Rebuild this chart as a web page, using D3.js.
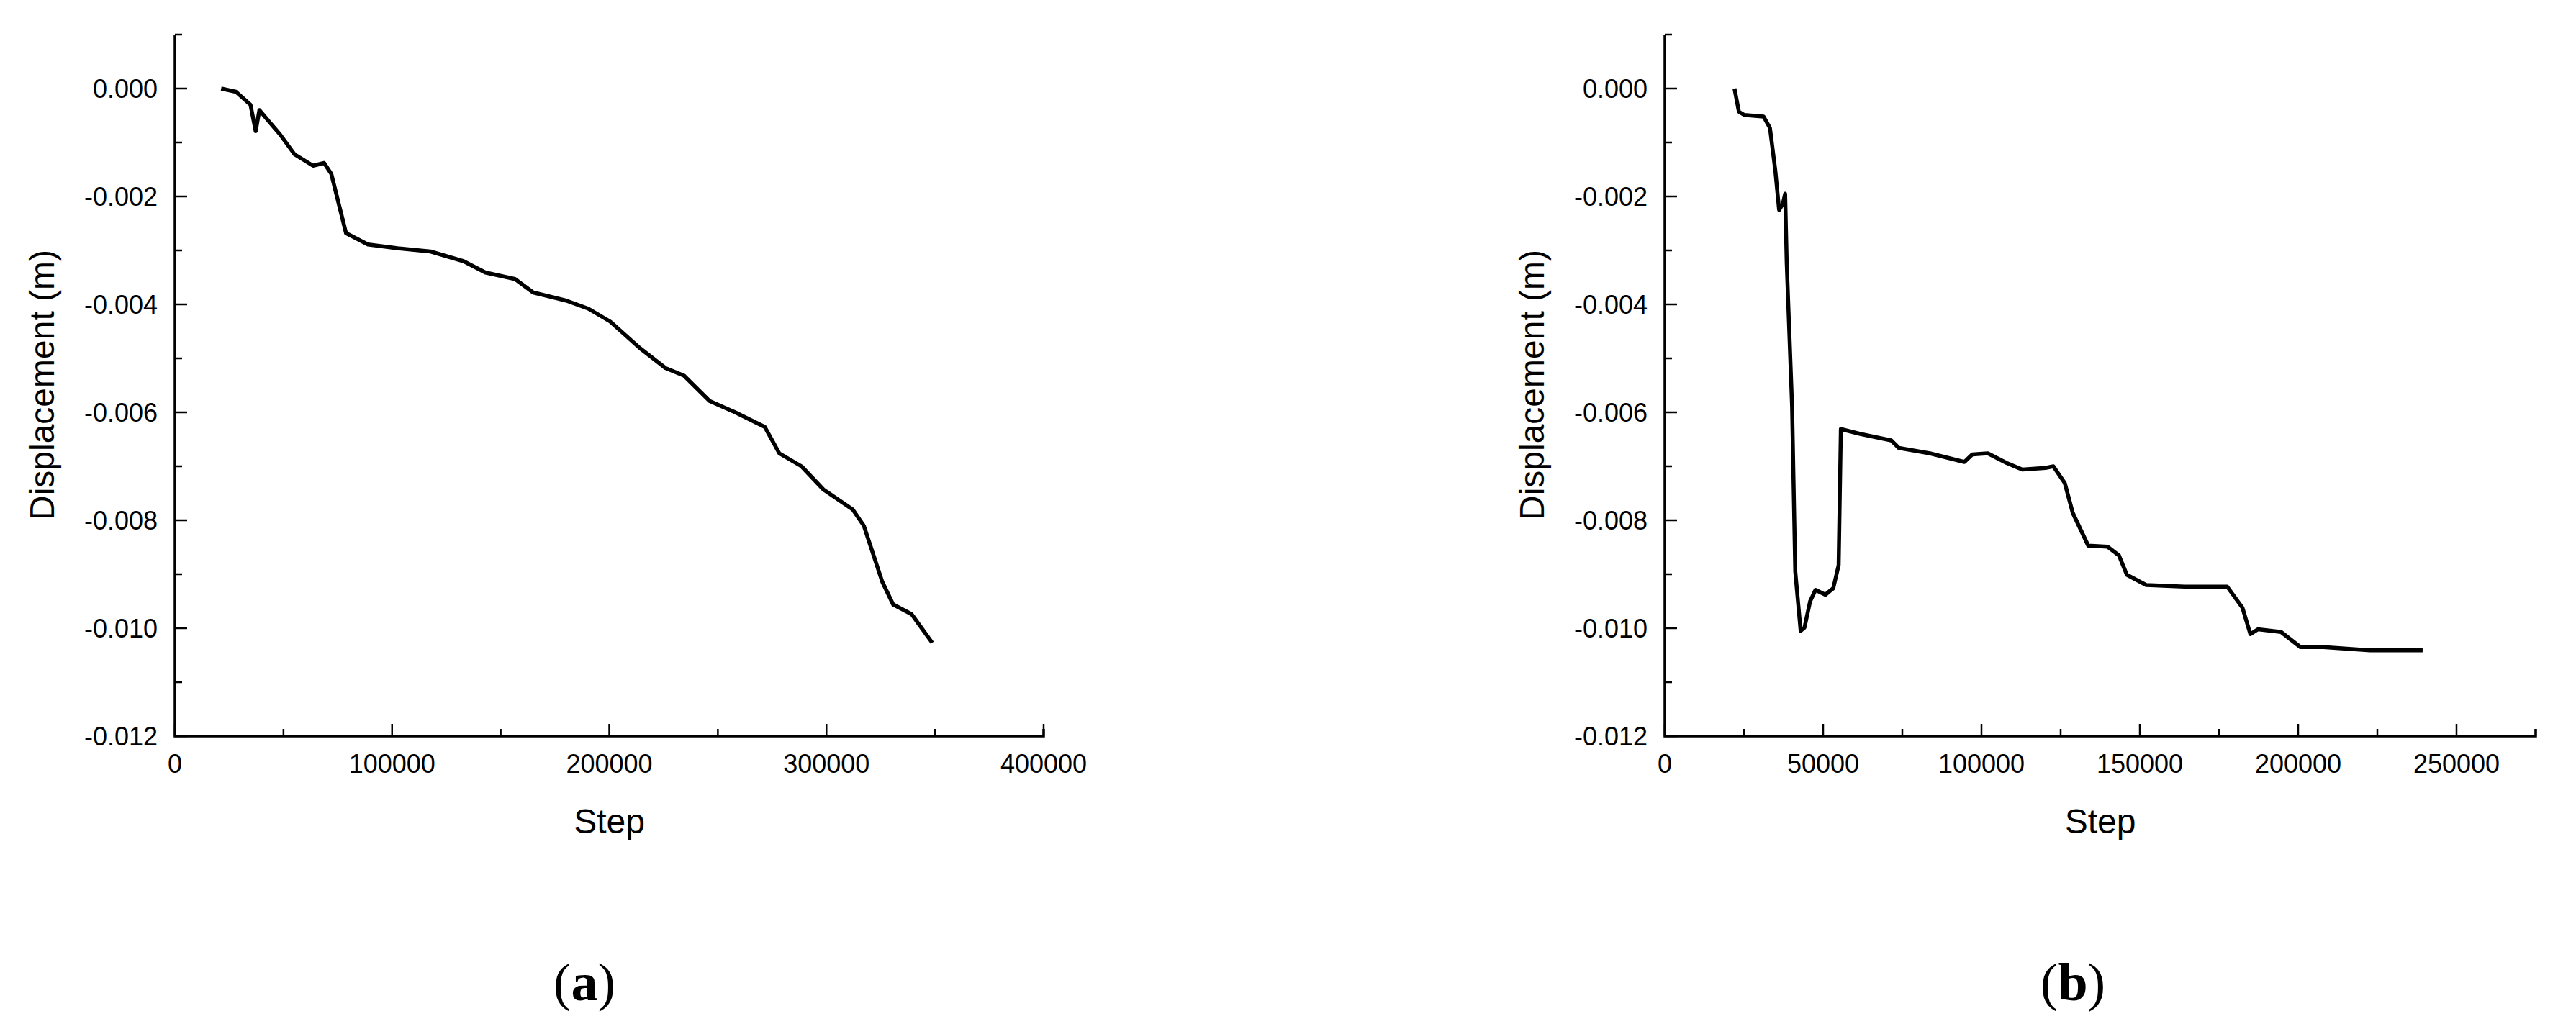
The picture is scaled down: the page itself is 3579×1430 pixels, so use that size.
<!DOCTYPE html>
<html>
<head>
<meta charset="utf-8">
<script src="https://cdn.jsdelivr.net/npm/d3@7"></script>
<style>
  body { margin: 0; background: #fff; }
  svg { display: block; }
</style>
</head>
<body>
<script>
// panel (a)
const stepsA = [21300, 28100, 34800, 37200, 38900, 43300, 48400, 55100, 63600, 68700, 72000, 78800, 88900, 102500, 117700, 132900, 143000, 156600, 165000, 180200, 190400, 200500, 214100, 225900, 234400, 246200, 258000, 271600, 278300, 288500, 298600, 312100, 317200, 325700, 330700, 339200, 348700];
const dispA = [0, -0.00006, -0.0003, -0.00079, -0.0004, -0.00061, -0.00085, -0.00122, -0.00143, -0.00138, -0.00158, -0.00268, -0.00289, -0.00296, -0.00302, -0.0032, -0.00341, -0.00353, -0.00378, -0.00393, -0.00408, -0.00432, -0.00481, -0.00518, -0.00532, -0.00579, -0.006, -0.00627, -0.00676, -0.007, -0.00743, -0.0078, -0.0081, -0.00914, -0.00956, -0.00974, -0.01027];

// panel (b)
const stepsB = [22000, 23400, 25100, 31200, 33200, 34900, 36100, 37300, 38000, 38500, 40200, 41200, 42900, 44100, 45900, 47600, 50700, 53200, 54900, 55600, 61700, 71500, 73900, 83700, 94600, 97100, 102000, 108000, 112900, 120200, 122700, 126300, 128800, 133700, 139800, 143400, 145900, 152000, 164100, 177600, 182400, 184900, 187300, 194600, 200700, 208000, 222700, 239300];
const dispB = [0, -0.00043, -0.00049, -0.00052, -0.00073, -0.00152, -0.00225, -0.00213, -0.00195, -0.00323, -0.0059, -0.00895, -0.01005, -0.00999, -0.0095, -0.00929, -0.00938, -0.00926, -0.00883, -0.00631, -0.0064, -0.00652, -0.00666, -0.00676, -0.00692, -0.00678, -0.00676, -0.00694, -0.00706, -0.00703, -0.007, -0.00731, -0.00786, -0.00847, -0.00849, -0.00865, -0.00901, -0.0092, -0.00923, -0.00923, -0.00962, -0.01011, -0.01002, -0.01007, -0.01035, -0.01035, -0.01041, -0.01041];

const yTicks = [0, -0.002, -0.004, -0.006, -0.008, -0.010, -0.012];
const xTicksA = [0, 100000, 200000, 300000, 400000];
const xTicksB = [0, 50000, 100000, 150000, 200000, 250000];

const W = 3579, H = 1430;
const svg = d3.select("body").append("svg")
    .attr("width", W).attr("height", H)
    .style("font-family", "Arial, 'Liberation Sans', sans-serif");

function panel(opt) {
  const x = d3.scaleLinear().domain(opt.xDomain).range([opt.left, opt.right]);
  const y = d3.scaleLinear().domain([-0.012, 0.001]).range([1023, 48]);
  const g = svg.append("g");

  // minor ticks (every half major step)
  const xMinor = d3.range(opt.xDomain[0], opt.xDomain[1] + 1, opt.xStep / 2);
  const yMinor = d3.range(-0.012, 0.0010001, 0.001);

  g.append("g").selectAll("line").data(xMinor).join("line")
      .attr("x1", d => x(d)).attr("x2", d => x(d))
      .attr("y1", 1023).attr("y2", d => opt.xTicks.includes(d) ? 1023 - 17 : 1023 - 10)
      .attr("stroke", "#000").attr("stroke-width", 2.5);
  g.append("g").selectAll("line").data(yMinor).join("line")
      .attr("y1", d => y(d)).attr("y2", d => y(d))
      .attr("x1", opt.left)
      .attr("x2", d => yTicks.some(t => Math.abs(t - d) < 1e-9) ? opt.left + 17 : opt.left + 10)
      .attr("stroke", "#000").attr("stroke-width", 2.5);

  // axis lines
  g.append("path")
      .attr("d", `M${opt.left},${y(0.001)}V1023H${x(opt.xDomain[1])}V1013`)
      .attr("fill", "none").attr("stroke", "#000").attr("stroke-width", 3.5);

  g.append("g").selectAll("text").data(opt.xTicks).join("text")
      .attr("x", d => x(d)).attr("y", 1074)
      .attr("text-anchor", "middle").attr("font-size", 36)
      .text(d => d);
  g.append("g").selectAll("text").data(yTicks).join("text")
      .attr("x", opt.left - 24).attr("y", d => y(d) + 13)
      .attr("text-anchor", "end").attr("font-size", 36)
      .text(d => d3.format(".3f")(d).replace("−", "-"));

  g.append("text")
      .attr("x", (opt.left + x(opt.xDomain[1])) / 2).attr("y", 1158)
      .attr("text-anchor", "middle").attr("font-size", 48)
      .text("Step");
  g.append("text")
      .attr("transform", `translate(${opt.left - 168},535) rotate(-90)`)
      .attr("text-anchor", "middle").attr("font-size", 48)
      .text("Displacement (m)");

  const data = opt.steps.map((s, i) => [s, opt.disp[i]]);
  g.append("path").datum(data)
      .attr("fill", "none").attr("stroke", "#000").attr("stroke-width", 5.5)
      .attr("stroke-linejoin", "round")
      .attr("d", d3.line().x(d => x(d[0])).y(d => y(d[1])));

  const lab = g.append("text")
      .attr("x", opt.labelX).attr("y", 1390)
      .attr("text-anchor", "middle").attr("font-size", 74)
      .attr("font-family", "'Liberation Serif', 'Times New Roman', serif");
  lab.append("tspan").text("(");
  lab.append("tspan").attr("font-weight", "bold").text(opt.label);
  lab.append("tspan").text(")");
}

panel({ xDomain: [0, 400000], xStep: 100000, left: 243, right: 1450, xTicks: xTicksA,
        steps: stepsA, disp: dispA, label: "a", labelX: 812 });
panel({ xDomain: [0, 275000], xStep: 50000, left: 2313, right: 3523, xTicks: xTicksB,
        steps: stepsB, disp: dispB, label: "b", labelX: 2880 });
</script>
</body>
</html>
